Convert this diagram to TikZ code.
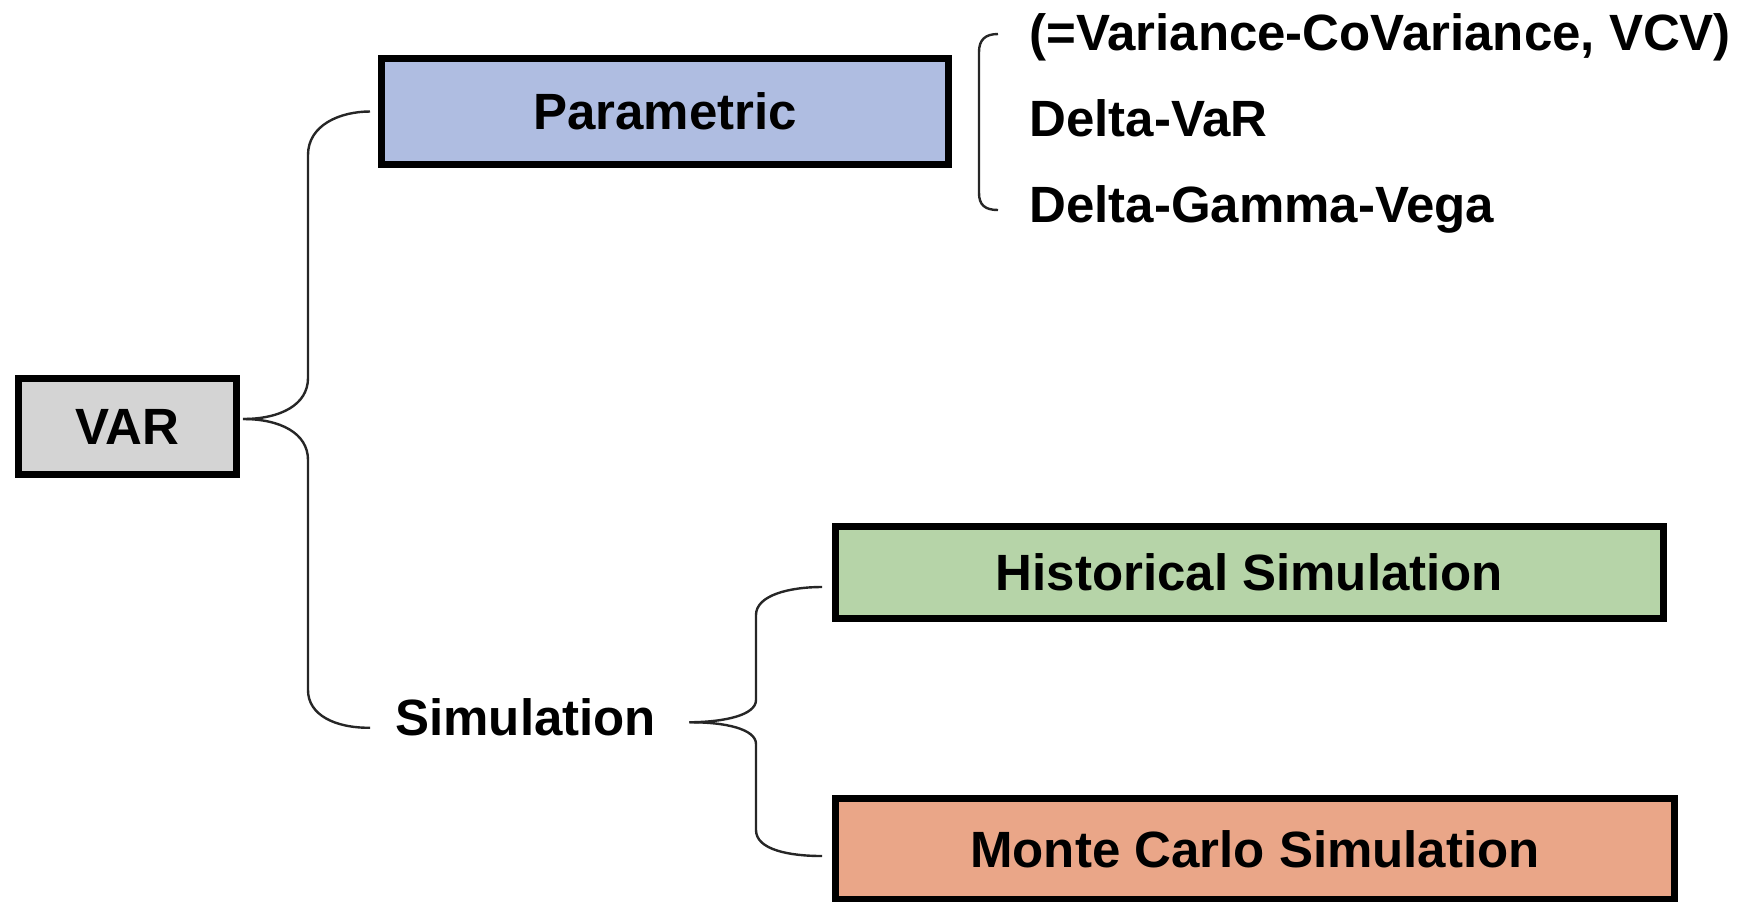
\documentclass[tikz,border=0pt]{standalone}
\usepackage{fontspec}
\setmainfont{Liberation Sans}
\usepackage{tikz}
\definecolor{vargray}{RGB}{212, 212, 212}
\definecolor{parblue}{RGB}{175, 189, 225}
\definecolor{histgreen}{RGB}{182, 212, 168}
\definecolor{mcsalmon}{RGB}{234, 166, 136}
\usetikzlibrary{
  calc,
  positioning,
}
\tikzset{
  box/.style={draw,rectangle,line width=3.5pt,inner sep=0pt},
  txt/.style={inner sep=0pt,anchor=base west},
  brc/.style={draw=black!85,line width=1.2pt},
}

\begin{document}
\begin{tikzpicture}[x=0.5pt,y=-0.5pt,every node/.style={font=\bfseries\fontsize{25.5}{30}\selectfont}]

        \useasboundingbox (0,0) rectangle (1760,901);

        \node[box,minimum width=109pt,minimum height=48pt,fill=vargray]      (b0)  at (127.5,426.5) {VAR};
        \node[box,minimum width=283.5pt,minimum height=53pt,fill=parblue]    (b10) at (665,111.5)   {Parametric};
        \node[txt]                                                          (b11) at (395,735)     {Simulation};
        \node[box,minimum width=414pt,minimum height=46pt,fill=histgreen]    (b20) at (1249.5,572.5) {Historical Simulation};
        \node[box,minimum width=419.5pt,minimum height=50.5pt,fill=mcsalmon] (b21) at (1255,849)    {Monte Carlo Simulation};

        \node[txt] (t0) at (1029,50)  {(=Variance-CoVariance, VCV)};
        \node[txt] (t1) at (1029,136) {Delta-VaR};
        \node[txt] (t2) at (1029,222) {Delta-Gamma-Vega};

        % VAR brace
        \draw[brc] ([xshift=-4pt]b10.west) .. controls (340,111.5) and (308,125) .. (308,155)
            -- (308,378) .. controls (308,405) and (280,419) .. ([xshift=1.5pt,yshift=3.75pt]b0.east);
        \draw[brc] ([xshift=1.5pt,yshift=3.75pt]b0.east) .. controls (280,419) and (308,433) .. (308,460)
            -- (308,690) .. controls (308,715) and (335,728) .. ([xshift=-12.5pt,yshift=-5.5pt]b11.west);

        % Simulation brace
        \draw[brc] ([xshift=-5pt,yshift=-7.25pt]b20.west) .. controls (790,587) and (756,595) .. (756,615)
            -- (756,700) .. controls (756,715) and (725,722) .. ([xshift=16.5pt,yshift=-2.75pt]b11.east);
        \draw[brc] ([xshift=16.5pt,yshift=-2.75pt]b11.east) .. controls (725,722) and (756,729) .. (756,744)
            -- (756,830) .. controls (756,850) and (790,856) .. ([xshift=-5pt,yshift=-3.5pt]b21.west);

        % bracket of the list
        \draw[brc] (998,34) .. controls (985,34) and (979,40) .. (979,52)
            -- (979,193) .. controls (979,205) and (985,210) .. (998,210);

\end{tikzpicture}
\end{document}
